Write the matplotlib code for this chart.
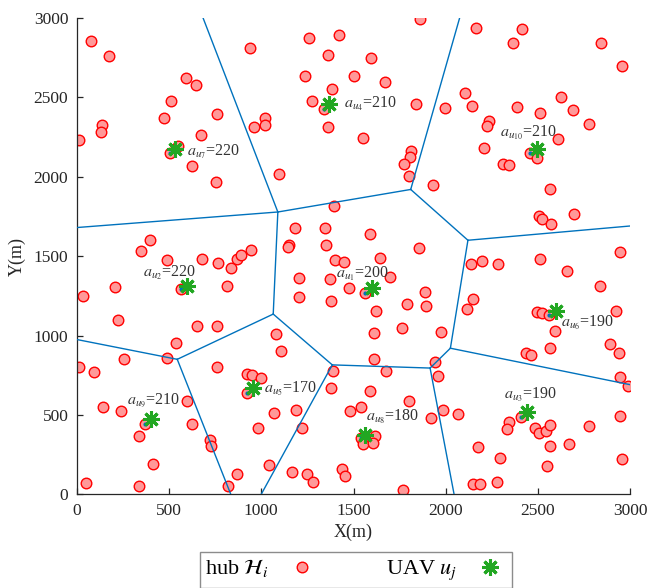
import matplotlib
matplotlib.use("Agg")
import matplotlib.pyplot as plt
from matplotlib.lines import Line2D


# =================================================
# DATA (metres)
# =================================================

# hub positions H_i
hub_x = [
    80, 175, 590, 645, 510, 760, 475, 135, 130, 15,
    675, 550, 505, 625, 755, 940, 960, 1020, 1020, 400,
    350, 945, 1860, 1260, 1420, 1360, 1595, 1235, 1505, 1670,
    1385, 1275, 1340, 1360, 1550, 1840, 1995, 1810, 1805, 1775,
    1800, 1095, 1930, 1395, 1185, 1345, 1590, 1150, 1145, 1350,
    1855, 2165, 2415, 2365, 2840, 2955, 2105, 2140, 2385, 2625,
    2510, 2690, 2235, 2225, 2775, 2610, 2205, 2455, 2495, 2310,
    2345, 2565, 2505, 2520, 2570, 2695, 2945, 490, 680, 765,
    835, 870, 890, 210, 35, 565, 815, 225, 650, 760,
    540, 490, 255, 10, 95, 760, 925, 950, 1000, 925,
    600, 145, 240, 370, 625, 980, 335, 720, 730, 415,
    870, 50, 340, 820, 1400, 1450, 1645, 1205, 1375, 1475,
    1700, 1565, 1205, 1380, 1620, 1890, 1895, 1790, 1765, 1610,
    1975, 1080, 1105, 1610, 1940, 1960, 1675, 1390, 1380, 1590,
    1800, 1540, 1480, 1070, 1190, 1220, 1920, 1985, 1540, 1615,
    1550, 1605, 1040, 1165, 1250, 1280, 1440, 1455, 1770, 2135,
    2195, 2285, 2510, 2655, 2835, 2150, 2115, 2920, 2495, 2520,
    2560, 2590, 2565, 2435, 2460, 2890, 2940, 2945, 2990, 2065,
    2945, 2775, 2345, 2330, 2410, 2485, 2505, 2545, 2565, 2175,
    2295, 2565, 2670, 2550, 2955, 2150, 2185, 2280,
]
hub_y = [
    2855, 2760, 2625, 2575, 2480, 2395, 2370, 2325, 2285, 2230,
    2260, 2195, 2150, 2070, 1970, 2810, 2315, 2370, 2325, 1600,
    1535, 1540, 2995, 2875, 2890, 2770, 2750, 2635, 2635, 2595,
    2550, 2480, 2425, 2315, 2245, 2460, 2435, 2160, 2125, 2080,
    2005, 2015, 1945, 1815, 1680, 1675, 1640, 1570, 1555, 1570,
    1550, 2940, 2930, 2840, 2845, 2695, 2530, 2445, 2440, 2500,
    2400, 2420, 2350, 2320, 2335, 2240, 2180, 2150, 2115, 2080,
    2075, 1925, 1755, 1735, 1705, 1765, 1525, 1475, 1485, 1455,
    1425, 1480, 1505, 1305, 1250, 1290, 1315, 1095, 1060, 1060,
    950, 860, 855, 800, 770, 800, 760, 750, 735, 640,
    590, 550, 525, 445, 445, 415, 365, 340, 305, 190,
    130, 70, 50, 50, 1475, 1465, 1490, 1360, 1355, 1300,
    1370, 1270, 1245, 1220, 1155, 1275, 1185, 1200, 1045, 1015,
    1025, 1010, 905, 855, 835, 745, 775, 775, 670, 650,
    590, 550, 525, 515, 530, 420, 480, 530, 355, 365,
    315, 325, 185, 140, 130, 75, 160, 115, 25, 1450,
    1470, 1450, 1480, 1405, 1310, 1230, 1165, 1155, 1145, 1140,
    1130, 1030, 920, 890, 880, 945, 890, 740, 685, 505,
    490, 430, 455, 410, 485, 415, 385, 400, 435, 295,
    230, 305, 315, 180, 220, 65, 65, 75,
]

# UAV positions u_1 ... u_10 and their assigned value a_{u_j}
uav_id = [1, 2, 3, 4, 5, 6, 7, 8, 9, 10]
uav_x = [1600, 600, 2440, 1365, 955, 2595, 535, 1565, 405, 2495]
uav_y = [1300, 1315, 520, 2460, 670, 1155, 2175, 375, 475, 2175]
uav_a = [200, 220, 190, 210, 170, 190, 220, 180, 210, 210]

# hub directly served by each UAV (small blue dot)
served_x = [1565, 565, 2410, 1340, 925, 2560, 505, 1540, 370, 2455]
served_y = [1270, 1290, 485, 2425, 640, 1130, 2150, 355, 445, 2150]

# cell boundaries (segment end points)
cell_edges = [
    ((685, 3000), (1090, 1778)),
    ((0, 1680), (1090, 1778)),
    ((1090, 1778), (1810, 1920)),
    ((1810, 1920), (2075, 3000)),
    ((1090, 1778), (1065, 1135)),
    ((1065, 1135), (545, 850)),
    ((545, 850), (0, 975)),
    ((545, 850), (835, 0)),
    ((1065, 1135), (1385, 815)),
    ((1385, 815), (1000, 0)),
    ((1385, 815), (1915, 795)),
    ((1915, 795), (2045, 0)),
    ((1915, 795), (2025, 920)),
    ((2025, 920), (3000, 690)),
    ((2025, 920), (2120, 1600)),
    ((2120, 1600), (3000, 1690)),
    ((2120, 1600), (1810, 1920)),
]

# label offsets from each UAV (layout only)
label_dx = [-193, -240, -125, 85, 58, 30, 65, 5, -130, -200]
label_dy = [69, 56, 85, -23, -28, -100, -40, 93, 94, 82]

ticks = [0, 500, 1000, 1500, 2000, 2500, 3000]


# =================================================
# STYLE
# =================================================

plt.rcParams["font.family"] = ["Liberation Serif", "DejaVu Serif"]
plt.rcParams["mathtext.fontset"] = "stix"

AX_COLOR = "#262626"
LINE_BLUE = "#0072BD"
HUB_FACE = "#FF9999"
HUB_EDGE = "#FF0000"
UAV_GREEN = "#22A722"
UAV_MARKER = (8, 2, 0)


# =================================================
# PLOT
# =================================================

fig = plt.figure(figsize=(6.61, 5.88), dpi=100)
ax = fig.add_axes([0.116, 0.1594, 0.8376, 0.81])

ax.plot(hub_x, hub_y, linestyle="none", marker="o", markersize=7.6,
        markerfacecolor=HUB_FACE, markeredgecolor=HUB_EDGE,
        markeredgewidth=1.0, zorder=2)

for (x0, y0), (x1, y1) in cell_edges:
    ax.plot([x0, x1], [y0, y1], color=LINE_BLUE, linewidth=1.0, zorder=3)

ax.plot(served_x, served_y, linestyle="none", marker="o", markersize=2,
        color=LINE_BLUE, zorder=4)

ax.plot(uav_x, uav_y, linestyle="none", marker=UAV_MARKER, markersize=12,
        markeredgewidth=2.2, color=UAV_GREEN, zorder=5)

for j, x, y, a, dx, dy in zip(uav_id, uav_x, uav_y, uav_a, label_dx, label_dy):
    ax.text(x + dx, y + dy, rf"$a_{{u_{{{j}}}}}$=" + str(a),
            fontsize=11.5, color="#333333", ha="left", va="baseline", zorder=6)

# -------------------------------------------------
# axes (left / bottom only, ticks inside)
# -------------------------------------------------
ax.set_xlim(0, 3000)
ax.set_ylim(0, 3000)
ax.set_xticks(ticks)
ax.set_yticks(ticks)
ax.spines["top"].set_visible(False)
ax.spines["right"].set_visible(False)
for side in ("left", "bottom"):
    ax.spines[side].set_color(AX_COLOR)
    ax.spines[side].set_linewidth(0.9)
ax.tick_params(direction="in", length=4, width=0.9, colors=AX_COLOR,
               labelsize=12.5, pad=6)

ax.set_xlabel("X(m)", fontsize=13, color=AX_COLOR, labelpad=4)
ax.set_ylabel("Y(m)", fontsize=13, color=AX_COLOR, labelpad=6)

# -------------------------------------------------
# legend below the axes
# -------------------------------------------------
handles = [
    Line2D([], [], linestyle="none", marker="o", markersize=7.6,
           markerfacecolor=HUB_FACE, markeredgecolor=HUB_EDGE,
           markeredgewidth=1.0),
    Line2D([], [], linestyle="none", marker=UAV_MARKER, markersize=12,
           markeredgewidth=2.2, color=UAV_GREEN),
]
fig.legend(handles, [r"hub $\mathcal{H}_i$", r"UAV $u_j$"],
           loc="upper center", bbox_to_anchor=(0.5386, 0.0615),
           bbox_transform=fig.transFigure, borderaxespad=0, ncol=2,
           markerfirst=False, fontsize=16, frameon=True, fancybox=False,
           edgecolor="#8c8c8c", framealpha=1, columnspacing=3.0,
           handletextpad=0.75, borderpad=0.25, handlelength=1.5)

fig.savefig("out.png", dpi=100)
